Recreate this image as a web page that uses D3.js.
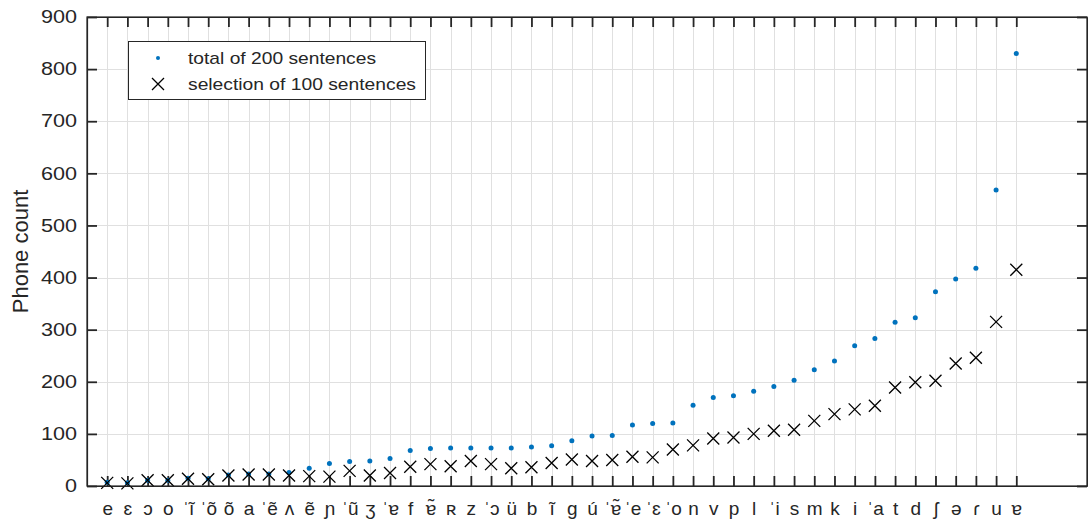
<!DOCTYPE html>
<html>
<head>
<meta charset="utf-8">
<script src="https://cdn.jsdelivr.net/npm/d3@7"></script>
<style>
  html, body { margin: 0; padding: 0; background: #fff; }
  svg { display: block; }
  text { font-family: "Liberation Sans", Arial, "DejaVu Sans", sans-serif; fill: #262626; }
</style>
</head>
<body>
<svg id="chart" width="1088" height="523"></svg>
<script>
// Phone labels, ordered by total count
const phones = ["e","ɛ","ɔ","o","ˈĩ","ˈõ","õ","a","ˈẽ","ʌ","ẽ","ɲ","ˈũ","ʒ","ˈɐ","f","ɐ̃","ʀ","z","ˈɔ","ü","b","ĩ","g","ú","ˈɐ̃","ˈe","ˈɛ","ˈo","n","v","p","l","ˈi","s","m","k","i","ˈa","t","d","ʃ","ə","ɾ","u","ɐ"];

// Phone counts in the full set of 200 sentences
const totalCounts = [7,6,11,11,15,14,21,23,23,26,34,43,47,48,53,68,72,73,73,73,73,75,77,87,96,97,117,120,121,155,170,173,182,191,203,223,240,269,283,314,323,373,397,418,568,830];

// Phone counts in the selected 100 sentences
const selectionCounts = [6,5,11,11,14,13,20,22,22,20,19,18,29,20,25,37,42,38,48,42,34,36,44,51,48,50,56,55,70,78,91,93,100,106,108,125,138,147,154,189,199,202,235,246,315,415];

const yTicks = [0,100,200,300,400,500,600,700,800,900];

const legendLabels = ["total of 200 sentences", "selection of 100 sentences"];

const svg = d3.select("#chart");
const plotLeft = 87, plotRight = 1087, plotTop = 17, plotBottom = 486;
const ink = "#262626";

const idx = d3.range(1, phones.length + 1);
const x = d3.scaleLinear().domain([0, 49.5]).range([plotLeft, plotRight]);
const y = d3.scaleLinear().domain([0, 900]).range([plotBottom, plotTop]);

// grid
const grid = svg.append("g").attr("stroke", "#e0e0e0").attr("stroke-width", 1);
grid.selectAll("line.v").data(idx).join("line")
  .attr("x1", d => Math.round(x(d)) + 0.5).attr("x2", d => Math.round(x(d)) + 0.5)
  .attr("y1", plotTop).attr("y2", plotBottom);
grid.selectAll("line.h").data(yTicks.slice(1, -1)).join("line")
  .attr("y1", d => Math.round(y(d)) + 0.5).attr("y2", d => Math.round(y(d)) + 0.5)
  .attr("x1", plotLeft).attr("x2", plotRight);

// axes (ticks point inward on all four sides)
function styleAxis(g) {
  g.select(".domain").attr("stroke", ink).attr("stroke-width", 1.2);
  g.selectAll(".tick line").attr("stroke", ink).attr("stroke-width", 1.8);
  g.selectAll(".tick text").attr("fill", ink).style("font-size", "18px");
}

const xb = svg.append("g").attr("transform", `translate(0,${plotBottom})`)
  .call(d3.axisBottom(x).tickValues(idx).tickSizeInner(-10).tickSizeOuter(0)
        .tickPadding(16).tickFormat(d => phones[d - 1]));
styleAxis(xb);
xb.selectAll(".tick text").style("font-size", "19px");

const xt = svg.append("g").attr("transform", `translate(0,${plotTop})`)
  .call(d3.axisTop(x).tickValues(idx).tickSizeInner(-10).tickSizeOuter(0).tickFormat(""));
styleAxis(xt);

const yl = svg.append("g").attr("transform", `translate(${plotLeft},0)`)
  .call(d3.axisLeft(y).tickValues(yTicks).tickSizeInner(-10).tickSizeOuter(0).tickPadding(20));
styleAxis(yl);
yl.selectAll(".tick text").attr("transform", "scale(1.2,1)").attr("x", -10 / 1.2);

const yr = svg.append("g").attr("transform", `translate(${plotRight},0)`)
  .call(d3.axisRight(y).tickValues(yTicks).tickSizeInner(-10).tickSizeOuter(0).tickFormat(""));
styleAxis(yr);

// y label
svg.append("text")
  .attr("transform", `translate(28,${(plotTop + plotBottom) / 2}) rotate(-90)`)
  .attr("text-anchor", "middle")
  .style("font-size", "22px")
  .text("Phone count");

// total of 200 sentences: blue dots
svg.append("g").selectAll("circle").data(totalCounts).join("circle")
  .attr("cx", (d, i) => x(i + 1)).attr("cy", d => y(d))
  .attr("r", 2.5).attr("fill", "#0072BD");

// selection of 100 sentences: black crosses
const s = 6;
const cross = svg.append("g").attr("stroke", "#000").attr("stroke-width", 1.3).attr("fill", "none");
cross.selectAll("path").data(selectionCounts).join("path")
  .attr("d", (d, i) => {
    const cx = x(i + 1), cy = y(d);
    return `M${cx - s},${cy - s}L${cx + s},${cy + s}M${cx - s},${cy + s}L${cx + s},${cy - s}`;
  });

// legend
const lg = svg.append("g");
lg.append("rect").attr("x", 128.5).attr("y", 41.5).attr("width", 297).attr("height", 58)
  .attr("fill", "#fff").attr("stroke", ink).attr("stroke-width", 1);
lg.append("circle").attr("cx", 158).attr("cy", 58).attr("r", 2).attr("fill", "#0072BD");
lg.append("path").attr("d", `M${158 - s},${84 - s}L${158 + s},${84 + s}M${158 - s},${84 + s}L${158 + s},${84 - s}`)
  .attr("stroke", "#000").attr("stroke-width", 1.3);
lg.selectAll("text").data(legendLabels).join("text")
  .attr("x", 188).attr("y", (d, i) => 58 + i * 26).attr("dy", "0.35em")
  .style("font-size", "17px")
  .attr("textLength", (d, i) => i === 0 ? 188 : 228)
  .attr("lengthAdjust", "spacingAndGlyphs")
  .text(d => d);

// frame on top
svg.append("rect").attr("x", plotLeft).attr("y", plotTop).attr("width", plotRight - plotLeft).attr("height", plotBottom - plotTop)
  .attr("fill", "none").attr("stroke", ink).attr("stroke-width", 1.2);
</script>
</body>
</html>
